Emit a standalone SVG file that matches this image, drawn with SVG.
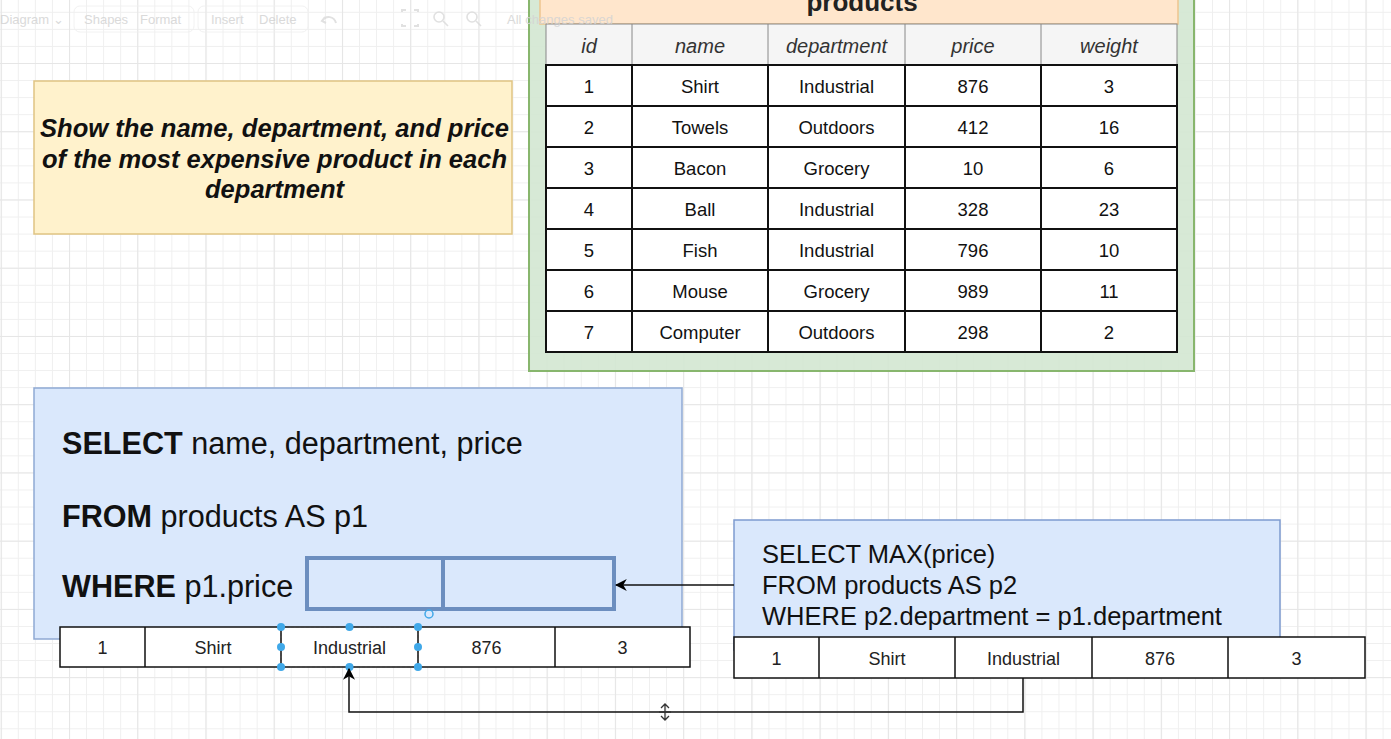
<svg xmlns="http://www.w3.org/2000/svg" width="1391" height="739" viewBox="0 0 1391 739">
<defs>
<pattern id="minor" x="0.76" y="-5.24" width="17.06" height="17.06" patternUnits="userSpaceOnUse">
<path d="M0 0.5H17.06M0.5 0V17.06" fill="none" stroke="#efefef" stroke-width="1"/>
</pattern>
<pattern id="major" x="0.76" y="-5.24" width="68.24" height="68.24" patternUnits="userSpaceOnUse">
<path d="M0 0.5H68.24M0.5 0V68.24" fill="none" stroke="#e6e6e6" stroke-width="1.2"/>
</pattern>
<marker id="arr" viewBox="0 0 10 10" refX="9" refY="5" markerWidth="12" markerHeight="12" markerUnits="userSpaceOnUse" orient="auto">
<path d="M0 0L10 5L0 10L3 5Z" fill="#000"/>
</marker>
<style>
text{font-family:"Liberation Sans",Arial,sans-serif}
.tb{fill:#d4d4d4;font-size:13px}
.hd{font-size:20px;font-style:italic;fill:#333;text-anchor:middle}
.cell{font-size:18.5px;fill:#111;text-anchor:middle}
.rc{font-size:18px;fill:#222;text-anchor:middle}
.grid{fill:#fff;stroke:#111;stroke-width:2}
.rowl{fill:#fff;stroke:#111;stroke-width:1.5}
.sql{font-size:30.6px;fill:#111}
.sql2{font-size:25.5px;fill:#111}
.h{fill:#40a8e8}
</style>
</defs>
<rect width="1391" height="739" fill="#fff"/>
<rect width="1391" height="739" fill="url(#minor)"/>
<rect width="1391" height="739" fill="url(#major)"/>

<g id="products-table">
<rect x="529" y="-10" width="665" height="381" fill="#d5e8d4" stroke="#82b366" stroke-width="2" opacity="0.95"/>
<rect x="540" y="-10" width="638" height="34" fill="#ffe6cc" stroke="#eec58f" stroke-width="1.5"/>
<text x="862" y="11" font-size="26" font-weight="bold" fill="#222" text-anchor="middle">products</text>
<rect x="546" y="24" width="631" height="41" fill="#f5f5f5" stroke="#888" stroke-width="1"/>
<path d="M632 24V65M768 24V65M905 24V65M1041 24V65" stroke="#888" stroke-width="1"/>
<text class="hd" x="589" y="53">id</text>
<text class="hd" x="700" y="53">name</text>
<text class="hd" x="836.5" y="53">department</text>
<text class="hd" x="973" y="53">price</text>
<text class="hd" x="1109" y="53">weight</text>
<rect class="grid" x="546" y="65" width="631" height="287"/>
<path d="M546 106H1177M546 147H1177M546 188H1177M546 229H1177M546 270H1177M546 311H1177M632 65V352M768 65V352M905 65V352M1041 65V352" stroke="#111" stroke-width="2" fill="none"/>
<g>
<text class="cell" x="589" y="92.5">1</text><text class="cell" x="700" y="92.5">Shirt</text><text class="cell" x="836.5" y="92.5">Industrial</text><text class="cell" x="973" y="92.5">876</text><text class="cell" x="1109" y="92.5">3</text>
<text class="cell" x="589" y="133.5">2</text><text class="cell" x="700" y="133.5">Towels</text><text class="cell" x="836.5" y="133.5">Outdoors</text><text class="cell" x="973" y="133.5">412</text><text class="cell" x="1109" y="133.5">16</text>
<text class="cell" x="589" y="174.5">3</text><text class="cell" x="700" y="174.5">Bacon</text><text class="cell" x="836.5" y="174.5">Grocery</text><text class="cell" x="973" y="174.5">10</text><text class="cell" x="1109" y="174.5">6</text>
<text class="cell" x="589" y="215.5">4</text><text class="cell" x="700" y="215.5">Ball</text><text class="cell" x="836.5" y="215.5">Industrial</text><text class="cell" x="973" y="215.5">328</text><text class="cell" x="1109" y="215.5">23</text>
<text class="cell" x="589" y="256.5">5</text><text class="cell" x="700" y="256.5">Fish</text><text class="cell" x="836.5" y="256.5">Industrial</text><text class="cell" x="973" y="256.5">796</text><text class="cell" x="1109" y="256.5">10</text>
<text class="cell" x="589" y="297.5">6</text><text class="cell" x="700" y="297.5">Mouse</text><text class="cell" x="836.5" y="297.5">Grocery</text><text class="cell" x="973" y="297.5">989</text><text class="cell" x="1109" y="297.5">11</text>
<text class="cell" x="589" y="338.5">7</text><text class="cell" x="700" y="338.5">Computer</text><text class="cell" x="836.5" y="338.5">Outdoors</text><text class="cell" x="973" y="338.5">298</text><text class="cell" x="1109" y="338.5">2</text>
</g>
</g>

<g id="toolbar" opacity="0.85">
<rect x="74" y="6" width="120" height="26" rx="6" fill="none" stroke="#f0f0f0"/>
<rect x="198" y="6" width="110" height="26" rx="6" fill="none" stroke="#f0f0f0"/>
<text class="tb" x="0" y="24">Diagram ⌄</text>
<text class="tb" x="84" y="24">Shapes</text>
<text class="tb" x="140" y="24">Format</text>
<text class="tb" x="211" y="24">Insert</text>
<text class="tb" x="259" y="24">Delete</text>
<path d="M325 17l-3 4 4 2M322 21c4-6 12-5 14 2" fill="none" stroke="#dcdcdc" stroke-width="2"/>
<path d="M402 12v-2h4M414 10h4v2M418 24v2h-4M406 26h-4v-2" fill="none" stroke="#dcdcdc" stroke-width="2"/>
<circle cx="439" cy="17" r="5" fill="none" stroke="#dcdcdc" stroke-width="1.6"/>
<path d="M443 21l5 5" stroke="#dcdcdc" stroke-width="1.6"/>
<circle cx="472" cy="17" r="5" fill="none" stroke="#dcdcdc" stroke-width="1.6"/>
<path d="M476 21l5 5" stroke="#dcdcdc" stroke-width="1.6"/>
<text class="tb" x="507" y="24" textLength="106">All changes saved</text>
</g>

<g id="question-note">
<rect x="34" y="81" width="478" height="153" fill="#fff2cc" stroke="#e0c483" stroke-width="1.5"/>
<g font-size="25" font-weight="bold" font-style="italic" fill="#111" text-anchor="middle">
<text x="274.5" y="137" textLength="469" lengthAdjust="spacingAndGlyphs">Show the name, department, and price</text>
<text x="274.5" y="168" textLength="465" lengthAdjust="spacingAndGlyphs">of the most expensive product in each</text>
<text x="274.5" y="198" textLength="139" lengthAdjust="spacingAndGlyphs">department</text>
</g>
</g>

<g id="outer-query">
<rect x="34" y="388" width="648" height="251" fill="#dae8fc" stroke="#8fa9d3" stroke-width="1.5"/>
<text class="sql" x="62" y="454"><tspan font-weight="bold">SELECT</tspan> name, department, price</text>
<text class="sql" x="62" y="527"><tspan font-weight="bold">FROM</tspan> products AS p1</text>
<text class="sql" x="62" y="597"><tspan font-weight="bold">WHERE</tspan> p1.price</text>
</g>

<g id="placeholder">
<rect x="307" y="558" width="307" height="51" fill="#dae8fc" stroke="#6c8ebf" stroke-width="4"/>
<path d="M443 558V609" stroke="#6c8ebf" stroke-width="4"/>
</g>

<g id="inner-query">
<rect x="734" y="520" width="546" height="130" fill="#dae8fc" stroke="#7d9bcf" stroke-width="1.5"/>
<text class="sql2" x="762" y="563">SELECT MAX(price)</text>
<text class="sql2" x="762" y="594">FROM products AS p2</text>
<text class="sql2" x="762" y="625">WHERE p2.department = p1.department</text>
</g>

<g id="row-p1">
<rect class="rowl" x="60" y="627" width="630" height="40"/>
<path d="M145 627V667M555 627V667" stroke="#111" stroke-width="1.5"/>
<path d="M281 627V667M418 627V667" stroke="#111" stroke-width="1.5"/>
<text class="rc" x="102.5" y="653.5">1</text>
<text class="rc" x="213" y="653.5">Shirt</text>
<text class="rc" x="349.5" y="653.5">Industrial</text>
<text class="rc" x="486.5" y="653.5">876</text>
<text class="rc" x="622.5" y="653.5">3</text>
</g>

<g id="selection">
<rect x="281" y="627" width="137" height="40" fill="none" stroke="#444" stroke-width="1.2" stroke-dasharray="3 2"/>
<circle class="h" cx="281" cy="627" r="4"/><circle class="h" cx="349.5" cy="627" r="4"/><circle class="h" cx="418" cy="627" r="4"/>
<circle class="h" cx="281" cy="647" r="4"/><circle class="h" cx="418" cy="647" r="4"/>
<circle class="h" cx="281" cy="667" r="4"/><circle class="h" cx="349.5" cy="667" r="4"/><circle class="h" cx="418" cy="667" r="4"/>
<circle cx="429" cy="614" r="4" fill="none" stroke="#40a8e8" stroke-width="1.5"/>
</g>

<g id="row-p2">
<rect class="rowl" x="734" y="637" width="631" height="41"/>
<path d="M819 637V678M955 637V678M1092 637V678M1228 637V678" stroke="#111" stroke-width="1.5"/>
<text class="rc" x="776.5" y="664.5">1</text>
<text class="rc" x="887" y="664.5">Shirt</text>
<text class="rc" x="1023.5" y="664.5">Industrial</text>
<text class="rc" x="1160" y="664.5">876</text>
<text class="rc" x="1296.5" y="664.5">3</text>
</g>

<g id="connectors" fill="none" stroke="#111" stroke-width="1.5">
<path d="M734 585H616" marker-end="url(#arr)"/>
<path d="M1023 678V712H349V669" marker-end="url(#arr)"/>
</g>
<path d="M665 705V719M661 708L665 704L669 708M661 716L665 720L669 716M659 712H671" fill="none" stroke="#333" stroke-width="1.3"/>
</svg>
